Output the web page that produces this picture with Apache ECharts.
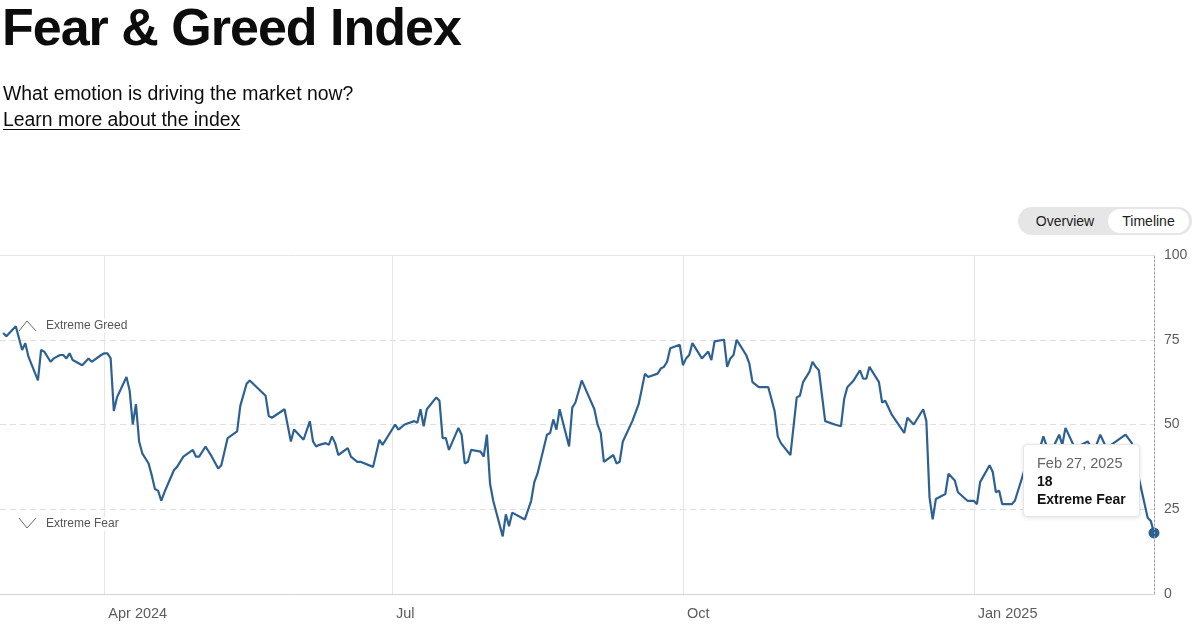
<!DOCTYPE html>
<html>
<head>
<meta charset="utf-8">
<script src="https://cdn.jsdelivr.net/npm/echarts@6/dist/echarts.min.js"></script>
<style>
  html, body { margin: 0; padding: 0; background: #fff; }
  body { width: 1200px; height: 636px; position: relative; overflow: hidden;
         font-family: "Liberation Sans", Arial, sans-serif; color: #0c0c0c; }
  #chart { position: absolute; left: 0; top: 0; width: 1200px; height: 636px; }
  .title { position: absolute; left: 2px; top: -3px; margin: 0; font-size: 52px; font-weight: 700;
           letter-spacing: -1px; white-space: nowrap; z-index: 2; }
  .sub { position: absolute; left: 3px; top: 82px; font-size: 19.4px; white-space: nowrap; z-index: 2; }
  .learn { position: absolute; left: 3px; top: 108px; font-size: 19.4px; white-space: nowrap; z-index: 2;
           color: #0c0c0c; text-decoration: underline; text-underline-offset: 3px; }
  .toggle { position: absolute; left: 1018px; top: 207px; width: 174px; height: 28px; border-radius: 14px;
            background: #e6e6e6; z-index: 2; font-size: 14px; color: #222; }
  .toggle span { position: absolute; top: 2px; height: 24px; line-height: 24px; text-align: center; border-radius: 12px; }
  .toggle .ov { left: 4px; width: 86px; }
  .toggle .tl { left: 90px; width: 81px; background: #fff; }
</style>
</head>
<body>
<div id="chart"></div>
<h1 class="title">Fear &amp; Greed Index</h1>
<div class="sub">What emotion is driving the market now?</div>
<a class="learn">Learn more about the index</a>
<div class="toggle"><span class="ov">Overview</span><span class="tl">Timeline</span></div>
<script>
// index readings (vertices)
const dates = [
  '2024-02-29','2024-03-01','2024-03-04','2024-03-06','2024-03-07','2024-03-08','2024-03-11','2024-03-12',
  '2024-03-13','2024-03-15','2024-03-16','2024-03-18','2024-03-19','2024-03-20','2024-03-21','2024-03-22',
  '2024-03-25','2024-03-27','2024-03-28','2024-03-31','2024-04-01','2024-04-02','2024-04-03','2024-04-04',
  '2024-04-05','2024-04-08','2024-04-09','2024-04-10','2024-04-11','2024-04-12','2024-04-13','2024-04-15',
  '2024-04-16','2024-04-17','2024-04-18','2024-04-19','2024-04-20','2024-04-23','2024-04-24','2024-04-26',
  '2024-04-29','2024-04-30','2024-05-01','2024-05-03','2024-05-05','2024-05-07','2024-05-08','2024-05-10',
  '2024-05-13','2024-05-14','2024-05-16','2024-05-17','2024-05-22','2024-05-23','2024-05-24','2024-05-28',
  '2024-05-30','2024-05-31','2024-06-03','2024-06-05','2024-06-06','2024-06-07','2024-06-08','2024-06-10',
  '2024-06-11','2024-06-12','2024-06-13','2024-06-14','2024-06-17','2024-06-18','2024-06-20','2024-06-21',
  '2024-06-25','2024-06-27','2024-06-28','2024-07-02','2024-07-03','2024-07-05','2024-07-08','2024-07-09',
  '2024-07-10','2024-07-11','2024-07-12','2024-07-15','2024-07-16','2024-07-17','2024-07-18','2024-07-19',
  '2024-07-22','2024-07-23','2024-07-24','2024-07-25','2024-07-26','2024-07-29','2024-07-30','2024-07-31',
  '2024-08-01','2024-08-02','2024-08-05','2024-08-06','2024-08-07','2024-08-08','2024-08-11','2024-08-12',
  '2024-08-14','2024-08-15','2024-08-16','2024-08-19','2024-08-20','2024-08-21','2024-08-22','2024-08-23',
  '2024-08-26','2024-08-27','2024-08-28','2024-08-30','2024-09-03','2024-09-04','2024-09-05','2024-09-06',
  '2024-09-09','2024-09-10','2024-09-11','2024-09-12','2024-09-13','2024-09-15','2024-09-17','2024-09-19',
  '2024-09-20','2024-09-23','2024-09-24','2024-09-25','2024-09-26','2024-09-27','2024-09-30','2024-10-01',
  '2024-10-02','2024-10-03','2024-10-04','2024-10-07','2024-10-09','2024-10-10','2024-10-11','2024-10-14',
  '2024-10-15','2024-10-16','2024-10-17','2024-10-18','2024-10-19','2024-10-21','2024-10-22','2024-10-23',
  '2024-10-25','2024-10-28','2024-10-29','2024-10-30','2024-10-31','2024-11-01','2024-11-04','2024-11-06',
  '2024-11-07','2024-11-08','2024-11-10','2024-11-11','2024-11-12','2024-11-13','2024-11-15','2024-11-18',
  '2024-11-20','2024-11-21','2024-11-22','2024-11-24','2024-11-26','2024-11-27','2024-11-28','2024-11-29',
  '2024-12-02','2024-12-03','2024-12-04','2024-12-06','2024-12-10','2024-12-11','2024-12-13','2024-12-16',
  '2024-12-17','2024-12-18','2024-12-19','2024-12-20','2024-12-23','2024-12-24','2024-12-26','2024-12-27',
  '2024-12-30','2024-12-31','2025-01-01','2025-01-02','2025-01-03','2025-01-06','2025-01-07','2025-01-08',
  '2025-01-09','2025-01-10','2025-01-13','2025-01-14','2025-01-17','2025-01-19','2025-01-21','2025-01-23',
  '2025-01-25','2025-01-28','2025-01-29','2025-01-30','2025-02-02','2025-02-06','2025-02-08','2025-02-10',
  '2025-02-12','2025-02-15','2025-02-18','2025-02-20','2025-02-22','2025-02-25','2025-02-26','2025-02-27'
];
const values = [
  77, 76, 79, 72, 74, 70, 63, 72,
  71.5, 68.5, 69.5, 70.5, 70.5, 69.5, 71, 69,
  67.5, 69.5, 68.5, 70.5, 71, 71, 69.5, 54,
  58, 64, 60, 50, 56, 45, 41.5, 38.5,
  35, 31, 30.5, 27.5, 30, 36.5, 37.5, 40.5,
  42.5, 40.5, 40.5, 43.5, 40.5, 37, 38, 46,
  48, 55.5, 62, 63, 58.5, 52.5, 52, 54.5,
  45, 48.5, 45.5, 51, 45, 43.5, 44, 44.5,
  44, 46.5, 44.5, 41, 43, 40.5, 39, 39,
  37.5, 45.5, 44, 50, 48.5, 50, 51, 50.5,
  54.5, 49.5, 54.5, 58, 57, 46, 46, 42.5,
  49, 47, 38.5, 39, 42.5, 42, 40.5, 47,
  32.5, 27.5, 17, 23.5, 20, 24, 22.5, 22,
  27.5, 33, 35.5, 47, 47.5, 51.5, 48.5, 54.5,
  43.5, 55, 56.5, 63, 54.5, 50, 47.5, 39,
  41, 38.5, 39, 45, 47, 51, 56, 65,
  64, 65, 66.5, 67, 68.5, 72.5, 73.5, 67.5,
  69.5, 70.5, 74, 69.5, 71.5, 69, 74.5, 75,
  67, 69.5, 70.5, 75, 73.5, 70.5, 68, 62.5,
  61, 61, 57.5, 54, 46.5, 44.5, 41, 58,
  58.5, 62.5, 65.5, 68.5, 67, 66, 51, 50,
  49.5, 57.5, 61, 63, 66, 63.5, 63.5, 67,
  62.5, 56.5, 57, 53, 47.5, 52, 50, 54.5,
  51, 28.5, 22, 28, 29.5, 35.5, 33.5, 30,
  27.5, 27.5, 27.5, 26.5, 33, 38, 36, 30,
  30.5, 26.5, 26.5, 27.5, 36.5, 42, 40, 46.5,
  41, 47, 44, 49, 43, 45, 42, 47,
  43, 45, 47, 44.5, 35, 22.5, 21.5, 18
];
const monthTicks = ['2024-04-01', '2024-07-01', '2024-10-01', '2025-01-01'];
const monthLabels = ['Apr 2024', 'Jul', 'Oct', 'Jan 2025'];
const yTicks = [0, 25, 50, 75, 100];
const xStart = '2024-02-28';
const xEnd = '2025-02-27';

function ts (s) {
  const p = s.split('-');
  return new Date(+p[0], +p[1] - 1, +p[2]).getTime();
}
function rating (v) {
  if (v < 25) return 'Extreme Fear';
  if (v < 45) return 'Fear';
  if (v <= 55) return 'Neutral';
  if (v <= 75) return 'Greed';
  return 'Extreme Greed';
}
const monthNames = ['Jan','Feb','Mar','Apr','May','Jun','Jul','Aug','Sep','Oct','Nov','Dec'];

const tickTs = monthTicks.map(ts);
const last = values.length - 1;
const seriesData = dates.map((d, i) => {
  const item = { value: [ts(d), values[i]] };
  if (i === last) {
    item.symbol = 'circle';
    item.symbolSize = 10;
  }
  return item;
});

const font = '"Liberation Sans", Arial, sans-serif';
const chart = echarts.init(document.getElementById('chart'));
chart.setOption({
  animation: false,
  textStyle: { fontFamily: font },
  grid: { left: 0, right: 46, top: 255, bottom: 42, containLabel: false },
  tooltip: {
    trigger: 'axis',
    triggerOn: 'none',
    alwaysShowContent: true,
    transitionDuration: 0,
    position: [1023, 444],
    backgroundColor: '#fff',
    borderColor: '#e6e6e6',
    borderWidth: 1,
    padding: [9, 13, 8, 13],
    extraCssText: 'box-shadow:0 1px 4px rgba(0,0,0,0.12);border-radius:4px;',
    axisPointer: { type: 'line', lineStyle: { color: '#a0a0a0', type: [2, 2], width: 1 } },
    formatter: function (params) {
      const p = params[0];
      const d = new Date(p.value[0]);
      const v = Math.round(p.value[1]);
      return '<div style="font-family:' + font.replace(/"/g, "'") + ';line-height:18px;">' +
        '<div style="font-size:14.5px;color:#666;">' + monthNames[d.getMonth()] + ' ' + d.getDate() + ', ' + d.getFullYear() + '</div>' +
        '<div style="font-size:14px;color:#111;font-weight:600;">' + v + '</div>' +
        '<div style="font-size:14px;color:#111;font-weight:600;">' + rating(v) + '</div></div>';
    }
  },
  xAxis: {
    type: 'value',
    min: ts(xStart),
    max: ts(xEnd),
    axisLine: { show: true, lineStyle: { color: '#d4d4d4', width: 1 } },
    axisTick: { show: false, customValues: tickTs },
    splitLine: { show: true, lineStyle: { color: '#e6e6e6', width: 1, type: 'solid' } },
    axisLabel: {
      customValues: tickTs,
      align: 'left',
      margin: 12,
      padding: [0, 0, 0, 4],
      color: '#5c5c5c',
      fontSize: 14.5,
      formatter: function (val) {
        const i = tickTs.indexOf(val);
        return i >= 0 ? monthLabels[i] : '';
      }
    }
  },
  yAxis: {
    type: 'value',
    position: 'right',
    min: yTicks[0],
    max: yTicks[yTicks.length - 1],
    interval: 25,
    axisLine: { show: true, lineStyle: { color: '#a0a0a0', type: [2, 2], width: 1 } },
    axisTick: { show: false },
    axisLabel: { margin: 10, color: '#5c5c5c', fontSize: 14 },
    splitLine: { show: true, lineStyle: { color: '#dedede', type: [6, 4], width: 1 } }
  },
  series: [{
    type: 'line',
    data: seriesData,
    symbol: 'none',
    showSymbol: true,
    lineStyle: { color: '#2d6193', width: 2.2 },
    itemStyle: { color: '#2d6193', borderWidth: 0 },
    emphasis: { disabled: true },
    markLine: {
      silent: true,
      symbol: 'none',
      label: { show: false },
      lineStyle: { color: '#e6e6e6', type: 'solid', width: 1 },
      data: [{ yAxis: 100 }]
    }
  }],
  graphic: [
    { type: 'polyline', z: 10, shape: { points: [[19, 331], [27, 321], [36, 331]] }, style: { stroke: '#666', lineWidth: 1, fill: null } },
    { type: 'text', z: 10, left: 44, top: 319, style: { text: 'Extreme Greed', fill: '#555', font: '12px ' + font, backgroundColor: '#fff', padding: [1, 2] } },
    { type: 'polyline', z: 10, shape: { points: [[19, 518], [27, 528], [36, 518]] }, style: { stroke: '#666', lineWidth: 1, fill: null } },
    { type: 'text', z: 10, left: 44, top: 517, style: { text: 'Extreme Fear', fill: '#555', font: '12px ' + font, backgroundColor: '#fff', padding: [1, 2] } }
  ]
});
chart.dispatchAction({ type: 'showTip', seriesIndex: 0, dataIndex: last });
window.addEventListener('resize', () => { chart.resize(); });
</script>
</body>
</html>
